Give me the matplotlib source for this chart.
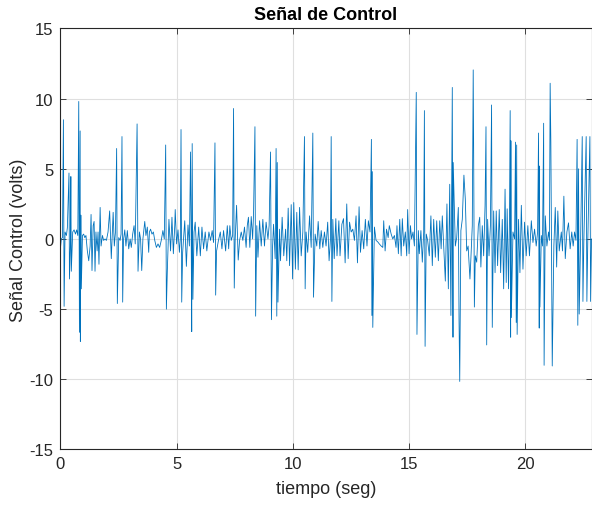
import matplotlib
matplotlib.use("Agg")
import matplotlib.pyplot as plt

# vertices of the control signal (seconds, volts)
tiempo = [
    0.00, 0.04, 0.09, 0.13, 0.16, 0.20, 0.26, 0.30, 0.37, 0.39, 0.43, 0.45, 0.47, 0.53, 0.59, 0.65,
    0.70, 0.75, 0.79, 0.82, 0.85, 0.86, 0.88, 0.90, 0.95, 1.00, 1.05, 1.10, 1.16, 1.22, 1.28, 1.32,
    1.36, 1.41, 1.45, 1.49, 1.53, 1.58, 1.62, 1.66, 1.71, 1.75, 1.81, 1.86, 1.92, 1.98, 2.05, 2.12,
    2.19, 2.27, 2.32, 2.37, 2.42, 2.45, 2.51, 2.57, 2.61, 2.65, 2.68, 2.72, 2.77, 2.82, 2.88, 2.94,
    3.00, 3.05, 3.11, 3.17, 3.22, 3.30, 3.34, 3.40, 3.45, 3.50, 3.55, 3.63, 3.68, 3.74, 3.80, 3.83,
    3.88, 3.94, 4.00, 4.06, 4.13, 4.20, 4.27, 4.34, 4.41, 4.47, 4.53, 4.56, 4.60, 4.67, 4.74, 4.80,
    4.86, 4.92, 4.94, 5.00, 5.06, 5.12, 5.16, 5.19, 5.22, 5.26, 5.30, 5.35, 5.42, 5.49, 5.55, 5.60,
    5.63, 5.65, 5.67, 5.70, 5.75, 5.80, 5.87, 5.95, 6.02, 6.09, 6.16, 6.23, 6.30, 6.39, 6.46, 6.53,
    6.59, 6.65, 6.68, 6.72, 6.80, 6.88, 6.95, 7.02, 7.11, 7.18, 7.24, 7.29, 7.35, 7.41, 7.45, 7.48,
    7.52, 7.58, 7.65, 7.71, 7.78, 7.85, 7.92, 7.99, 8.04, 8.09, 8.15, 8.21, 8.27, 8.31, 8.37, 8.40,
    8.45, 8.50, 8.57, 8.64, 8.71, 8.78, 8.85, 8.93, 8.98, 9.04, 9.08, 9.13, 9.17, 9.24, 9.28, 9.31,
    9.33, 9.36, 9.43, 9.47, 9.54, 9.61, 9.69, 9.74, 9.80, 9.86, 9.93, 9.99, 10.04, 10.11, 10.17, 10.23,
    10.29, 10.36, 10.43, 10.50, 10.53, 10.57, 10.64, 10.72, 10.79, 10.86, 10.89, 10.96, 11.03, 11.09, 11.16, 11.22,
    11.29, 11.36, 11.43, 11.50, 11.56, 11.62, 11.65, 11.68, 11.72, 11.78, 11.85, 11.90, 11.98, 12.03, 12.11, 12.18,
    12.25, 12.32, 12.38, 12.44, 12.51, 12.58, 12.65, 12.72, 12.78, 12.85, 12.91, 12.98, 13.05, 13.12, 13.19, 13.25,
    13.32, 13.38, 13.40, 13.42, 13.44, 13.51, 13.58, 13.65, 13.72, 13.80, 13.87, 13.91, 13.97, 14.03, 14.10, 14.15,
    14.23, 14.30, 14.37, 14.44, 14.48, 14.54, 14.60, 14.66, 14.71, 14.77, 14.84, 14.90, 14.94, 15.00, 15.06, 15.11,
    15.17, 15.23, 15.31, 15.34, 15.40, 15.44, 15.51, 15.57, 15.63, 15.66, 15.69, 15.74, 15.80, 15.87, 15.94, 16.00,
    16.06, 16.13, 16.19, 16.26, 16.32, 16.38, 16.43, 16.49, 16.56, 16.63, 16.69, 16.75, 16.80, 16.86, 16.89, 16.90,
    16.95, 16.99, 17.05, 17.12, 17.15, 17.18, 17.21, 17.23, 17.29, 17.36, 17.42, 17.48, 17.54, 17.62, 17.66, 17.72,
    17.75, 17.76, 17.78, 17.81, 17.85, 17.91, 17.98, 18.04, 18.09, 18.15, 18.21, 18.27, 18.31, 18.34, 18.38, 18.44,
    18.50, 18.55, 18.58, 18.64, 18.70, 18.75, 18.81, 18.88, 18.94, 19.01, 19.07, 19.13, 19.18, 19.22, 19.28, 19.32,
    19.35, 19.37, 19.38, 19.40, 19.47, 19.54, 19.58, 19.61, 19.63, 19.65, 19.71, 19.77, 19.83, 19.90, 19.97, 20.04,
    20.11, 20.18, 20.26, 20.33, 20.40, 20.47, 20.53, 20.57, 20.60, 20.61, 20.63, 20.69, 20.74, 20.79, 20.81, 20.86,
    20.93, 21.00, 21.04, 21.07, 21.10, 21.13, 21.16, 21.23, 21.29, 21.35, 21.40, 21.46, 21.55, 21.60, 21.66, 21.72,
    21.79, 21.86, 21.93, 22.00, 22.06, 22.12, 22.18, 22.23, 22.26, 22.29, 22.32, 22.38, 22.45, 22.48, 22.52, 22.62,
    22.65, 22.69, 22.78, 22.81, 22.85,
]
senal = [
    -0.7, 0.0, 0.1, 8.5, -4.8, 0.5, 0.25, 0.8, 4.7, -2.85, -0.5, 4.45, -2.3, 0.5, 0.65, 0.35,
    0.65, 0.25, 9.8, -6.65, 7.7, -7.3, 1.7, -3.55, 0.25, 0.35, 0.1, 0.25, -0.85, -1.55, -0.5, 1.75,
    -2.25, 0.95, 1.25, -2.3, 0.5, -0.85, 0.5, -1.8, 2.25, -0.5, 0.25, -0.1, 0.0, -0.1, 0.5, 2.0,
    -1.4, 1.9, -0.5, 0.5, 6.45, -4.6, 0.1, -0.1, 0.35, 7.3, -4.5, 0.0, 0.65, -0.5, 0.6, -0.7,
    0.0, -0.6, 0.35, 0.95, -0.35, 8.2, -2.3, 0.5, 0.0, -2.25, 0.0, 1.25, 0.25, 0.85, -0.95, 0.5,
    0.7, 0.35, 0.5, -0.1, -0.6, -0.35, -0.6, -0.1, 0.6, 0.0, 6.7, -5.0, -2.3, 1.4, -0.85, 1.55,
    -1.05, 0.95, 2.1, -0.35, 0.65, -0.95, 0.0, 7.8, -4.5, -0.95, 0.0, 1.3, -1.95, 1.0, -0.5, 6.2,
    -0.5, -6.6, 6.8, -4.3, 0.5, 1.2, -1.2, 0.85, -1.2, 0.85, -0.7, 0.5, -0.85, 0.5, -0.1, 0.6,
    -0.25, 6.85, -4.0, -0.85, -0.1, 0.5, -0.7, 0.6, -0.85, 0.95, -0.7, 0.95, -0.1, 0.25, 9.3, -3.5,
    0.0, 2.4, -1.5, -0.1, 0.5, -0.1, 0.85, -0.6, 0.95, 1.55, -0.6, 1.6, 0.0, 1.8, 8.0, -5.5,
    0.95, -1.3, 1.3, -0.5, 1.4, -0.5, 1.2, 0.0, 0.95, 6.2, -5.75, -0.5, 1.05, -1.4, 6.45, -5.5,
    5.45, -4.5, 0.7, -1.55, 1.55, -1.2, 0.7, -1.55, 2.2, -1.9, 2.45, -2.85, 2.6, -2.15, 1.9, -2.2,
    2.25, -1.2, 0.5, 7.3, -3.55, 0.5, -0.95, 1.65, -0.6, 7.55, -4.15, 0.35, -0.5, 1.25, -0.7, 0.6,
    -0.6, 0.5, -0.5, 1.2, -1.55, 0.0, 7.3, -4.45, 1.4, -1.4, 1.45, -1.2, 1.3, -1.2, 1.05, 1.45,
    -1.7, 2.5, -1.4, 1.2, 0.5, 0.7, -0.1, 1.65, -1.7, 2.3, -0.95, 0.6, -0.7, 1.4, -0.5, 1.3,
    0.5, 7.1, -5.45, 4.8, -6.3, 0.85, -0.1, -0.2, -0.35, -0.5, -0.6, 1.3, -0.85, 0.7, 0.1, 0.95,
    0.35, 0.0, 0.25, -0.6, 0.95, -1.05, 1.4, -1.2, 1.45, -0.5, 0.5, -1.2, 2.1, -1.05, 0.95, 0.0,
    0.5, -0.5, 10.45, -6.8, 0.6, -1.05, 0.6, -1.65, 0.5, 9.15, -7.65, 0.35, -0.1, -1.2, 1.65, -1.9,
    1.4, -1.3, 1.3, -1.55, 1.3, -0.7, 1.65, -0.5, -3.0, 2.5, -3.55, 3.9, -5.45, 10.8, -7.0, 5.45,
    2.15, -0.5, 0.1, 2.25, -5.7, -10.15, -3.8, 0.6, 1.4, 4.55, 2.85, -0.85, -0.5, -2.85, -1.4, 0.95,
    8.7, 12.05, 5.95, -4.85, -1.2, -1.65, 0.95, 1.55, -2.0, 0.95, -1.2, 2.4, 8.0, -7.55, 1.4, -1.2,
    0.95, 9.55, -6.3, 2.0, -2.4, 2.0, -1.9, 2.1, -2.4, 1.4, -3.55, 3.55, -3.1, 2.15, -3.55, 1.4,
    9.15, -7.0, 7.0, -5.6, 0.5, 0.0, 6.9, -5.95, 6.7, -6.8, 1.4, -2.4, 2.4, -2.15, 1.2, -1.2,
    0.95, -1.2, 1.3, -0.25, 0.7, -0.5, 0.5, 7.55, -6.35, 5.2, -4.85, 0.25, -0.5, 8.25, -9.0, 1.65,
    -0.5, 0.5, -0.1, 11.1, 6.9, -1.4, -9.05, -0.5, 2.25, -2.0, 2.0, -0.85, 0.5, -0.85, 3.05, -1.4,
    0.5, 1.15, -0.7, 0.5, -0.5, 0.5, -0.1, 7.1, -6.15, 5.0, -5.35, -0.1, 7.3, -4.45, -0.1, 7.3,
    -4.45, -0.1, 7.3, -4.45, 0.0,
]

x_ticks = [0, 5, 10, 15, 20]
y_ticks = [-15, -10, -5, 0, 5, 10, 15]

plt.rcParams["font.family"] = ["Liberation Sans", "DejaVu Sans"]
plt.rcParams["axes.unicode_minus"] = False
axis_color = "#262626"

fig = plt.figure(figsize=(5.92, 5.06), dpi=100)
ax = fig.add_axes([0.102, 0.1097, 0.8972, 0.832])

ax.plot(tiempo, senal, color="#0072BD", linewidth=0.6)

ax.set_xlim(0, 22.85)
ax.set_ylim(-15, 15)
ax.set_xticks(x_ticks)
ax.set_yticks(y_ticks)
ax.grid(True, color="#dfdfdf", linewidth=0.8)
ax.set_axisbelow(True)

ax.tick_params(direction="in", length=4, width=0.6, colors=axis_color,
               labelsize=12, top=True, right=True, pad=5)
for sp in ax.spines.values():
    sp.set_color(axis_color)
    sp.set_linewidth(0.8)

ax.set_title("Señal de Control", fontsize=13, fontweight="bold", color="black", pad=7)
ax.set_xlabel("tiempo (seg)", fontsize=13, color=axis_color, labelpad=6)
ax.set_ylabel("Señal Control (volts)", fontsize=13, color=axis_color, labelpad=2)

fig.savefig("out.png", dpi=100)
